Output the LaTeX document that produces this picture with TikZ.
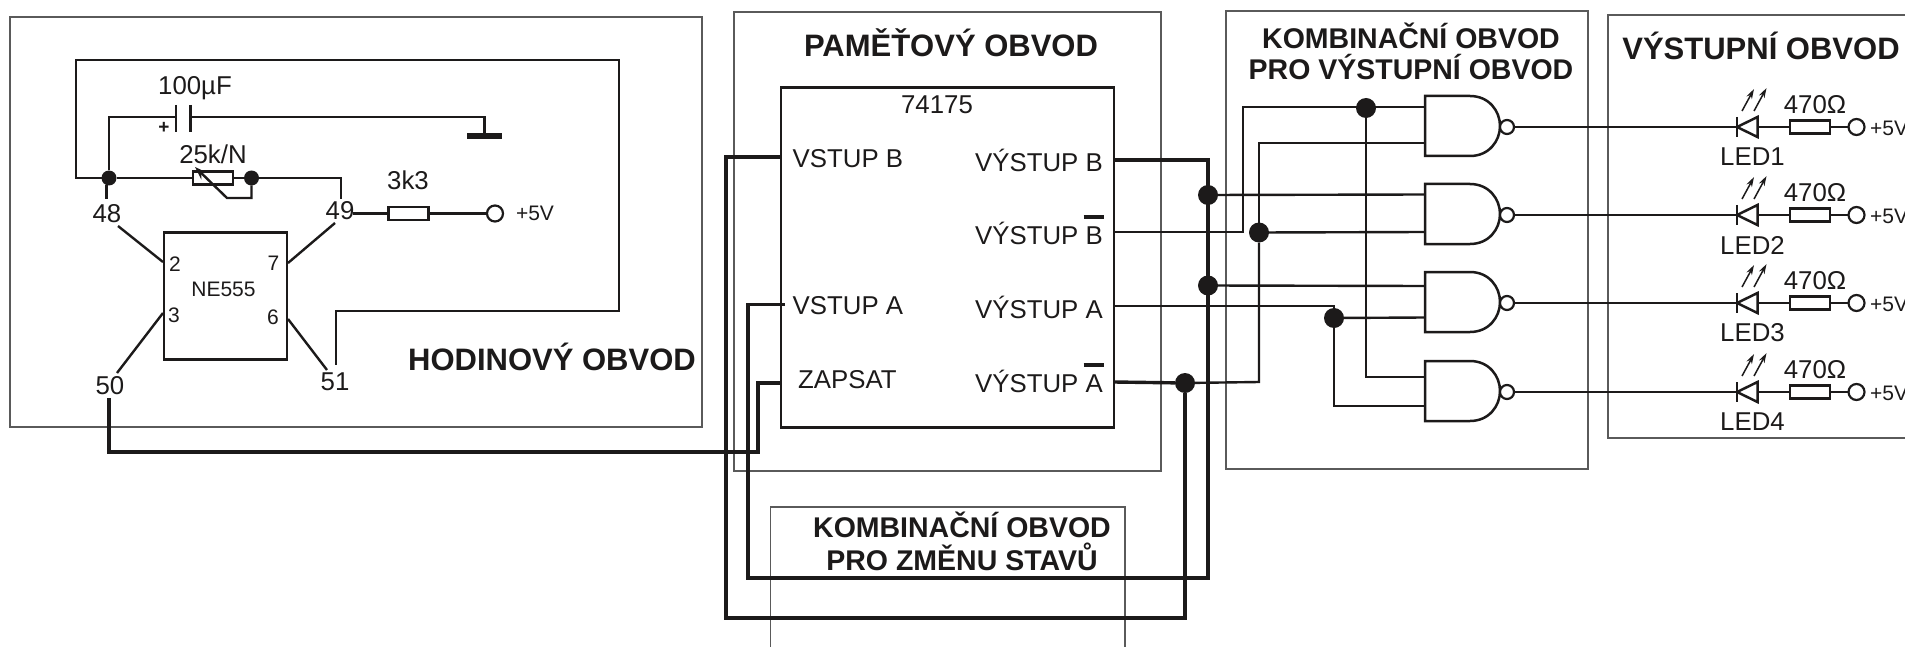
\documentclass[tikz,border=0pt]{standalone}
\usepackage{fontspec}
\setmainfont{Liberation Sans}
\usetikzlibrary{arrows.meta,calc}
\definecolor{ink}{HTML}{1C1A1A}
\definecolor{frame}{HTML}{5A5A5A}
\tikzset{
  wire/.style={draw=ink,line width=2.4pt,line join=miter},
  thickwire/.style={draw=ink,line width=3.4pt,line join=miter},
  group/.style={draw=frame,line width=1.3pt},
  chip/.style={draw=ink,line width=2.5pt,inner sep=0pt,outer sep=0pt},
  resbox/.style={draw=ink,fill=white,line width=2.4pt,rectangle,minimum width=40pt,minimum height=13pt,inner sep=0pt,outer sep=0pt},
  term/.style={draw=ink,fill=white,line width=2.2pt,circle,minimum size=16pt,inner sep=0pt,outer sep=0pt},
  dotbig/.style={fill=ink,circle,minimum size=20pt,inner sep=0pt,outer sep=0pt},
  dotsmall/.style={fill=ink,circle,minimum size=15pt,inner sep=0pt,outer sep=0pt},
  title/.style={text=ink,inner sep=0pt,font=\fontsize{31}{34}\bfseries\selectfont},
  subtitle/.style={text=ink,inner sep=0pt,font=\fontsize{28.5}{32}\bfseries\selectfont},
  lab/.style={text=ink,inner sep=0pt,font=\fontsize{25.8}{28}\selectfont},
  labsmall/.style={text=ink,inner sep=0pt,font=\fontsize{21}{24}\selectfont},
  ray/.style={draw=ink,line width=1.5pt,-{Stealth[length=10pt,width=6pt]}}
}
\begin{document}
\begin{tikzpicture}[x=1pt,y=-1pt]
\useasboundingbox (0,0) rectangle (1905,647);
% group frames
\draw[group] (10,17) rectangle (702,427);
\draw[group] (734,12) rectangle (1161,471);
\draw[group] (1226,11) rectangle (1588,469);
\draw[group] (1905,15) -- (1608,15) -- (1608,438) -- (1905,438);
\draw[group] (770.5,647) -- (770.5,507) -- (1125,507) -- (1125,647);
% titles
\node[title] (tHod) at (552,357) {HODINOVÝ OBVOD};
\node[title] (tPam) at (951,43) {PAMĚŤOVÝ OBVOD};
\node[subtitle] (tKom1) at (1411,35.5) {KOMBINAČNÍ OBVOD};
\node[subtitle] (tKom2) at (1411,67.5) {PRO VÝSTUPNÍ OBVOD};
\node[title] (tVys) at (1761,46) {VÝSTUPNÍ OBVOD};
\node[subtitle] (tZm1) at (962,525) {KOMBINAČNÍ OBVOD};
\node[subtitle] (tZm2) at (962,557) {PRO ZMĚNU STAVŮ};
% clock circuit
\node[chip,minimum width=123pt,minimum height=127pt] (ne) at (225.5,296) {};
\node[labsmall] (neT) at (223.5,289) {NE555};
\node[labsmall] (p2) at (175,264) {2};
\node[labsmall] (p7) at (273.5,263) {7};
\node[labsmall] (p3) at (174,315) {3};
\node[labsmall] (p6) at (273,317) {6};
\node[lab] (n48) at (107,214) {48};
\node[lab] (n49) at (340,211) {49};
\node[lab] (n50) at (110,386) {50};
\node[lab] (n51) at (335,382) {51};
\node[lab] (tCap) at (195,88) {100µF};
\node[lab] (tPot) at (213,154) {25k/N};
\node[lab] (t3k3) at (408,180) {3k3};
\node[labsmall] (tV0) at (535,213) {+5V};
\node[text=ink,inner sep=0pt,font=\fontsize{19}{20}\bfseries\selectfont] (tPlus) at (164,128) {+};
\node[dotsmall] (j48) at (109,178) {};
\node[dotsmall] (j25) at (251.5,178) {};
\node[resbox] (pot) at (213,178) {};
\node[resbox] (r3k3) at (408.5,213.5) {};
\node[term] (v0) at (495,213.5) {};
\coordinate (capA) at (176,117);
\coordinate (capB) at (190.5,117);
\coordinate (gnd) at (484.5,136);
\coordinate (a48) at (106.5,199);
\coordinate (b48) at (118,226);
\coordinate (c48) at (163,262);
\coordinate (a49) at (341,199);
\coordinate (b49) at (335,223);
\coordinate (c49) at (288,263);
\coordinate (o49) at (353,213.5);
\coordinate (b50) at (117,373);
\coordinate (c50) at (163,313);
\coordinate (b51) at (327,370);
\coordinate (c51) at (288,319);
\coordinate (a51) at (336,365);
\coordinate (a50) at (109,398);
\draw[wire] (j48) -- (76,178) -- (76,60) -- (619,60) -- (619,311) -- (336,311) -- (a51);
\draw[wire] (j48) |- (capA);
\draw[wire] (capB) -- (484.5,117) -- (gnd);
\draw[wire,line width=2.6pt] (176,105) -- (176,132);
\draw[wire,line width=2.6pt] (190.5,105) -- (190.5,132);
\draw[ink,line width=5.5pt] (467,136) -- (502,136);
\draw[wire] (j48) -- (pot);
\draw[wire] (pot) -- (j25);
\draw[wire] (j25) -- (341,178) -- (a49);
\draw[wire] (j48.south) ++(-2.5,0) -- (a48);
\draw[wire,-{Stealth[length=13pt,width=9pt]}] (j25) -- (251.5,198) -- (227,198) -- (195,167);
\draw[wire] (b48) -- (c48);
\draw[wire] (b49) -- (c49);
\draw[wire] (b50) -- (c50);
\draw[wire] (b51) -- (c51);
\draw[wire] (o49) -- (r3k3);
\draw[wire] (r3k3) -- (v0);
% register
\node[chip,minimum width=333pt,minimum height=340pt] (ic) at (947.5,257.5) {};
\node[lab] (t74) at (937,105) {74175};
\node[lab,anchor=west] (inB) at (792.5,159) {VSTUP B};
\node[lab,anchor=west] (inA) at (792.5,305.5) {VSTUP A};
\node[lab,anchor=west] (inZ) at (798,380) {ZAPSAT};
\node[lab,anchor=east] (outB) at (1103,160) {VÝSTUP B};
\node[lab,anchor=east] (outNB) at (1103,233) {VÝSTUP B};
\node[lab,anchor=east] (outA) at (1103,307) {VÝSTUP A};
\node[lab,anchor=east] (outNA) at (1103,381) {VÝSTUP A};
\draw[ink,line width=3.5pt] (1083.5,217) -- (1104,217);
\draw[ink,line width=3.5pt] (1083.5,365) -- (1104,365);
\node[dotbig] (dB) at (1208,195) {};
\node[dotbig] (dA) at (1208,285.5) {};
\node[dotbig] (dNA) at (1185,383) {};
\node[dotbig] (dNB) at (1259,232.5) {};
\node[dotbig] (dUp) at (1366,108) {};
\node[dotbig] (dLo) at (1334,318) {};
\coordinate (pB) at (1114,160);
\coordinate (pNB) at (1114,232);
\coordinate (pA) at (1114,306);
\coordinate (pNA) at (1114,382);
\coordinate (pInB) at (781,157);
\coordinate (pInA) at (785,304.5);
\coordinate (pInZ) at (781,383);
% gates and LED rows
\foreach \i/\r in {1/127,2/215,3/303,4/392}{
\begin{scope}[shift={(0,\r)}]
\draw[chip,fill=white] (1425,-31) -- (1470,-31) .. controls (1489,-31) and (1500,-16) .. (1500,-1)
  .. controls (1500,14) and (1489,29) .. (1470,29) -- (1425,29) -- cycle;
\node[term,minimum size=14pt] (bub\i) at (1507,0) {};
\node[resbox] (rl\i) at (1810,0) {};
\node[term] (vl\i) at (1856.5,0) {};
\coordinate (dk\i) at (1737,0);
\coordinate (da\i) at (1757.5,0);
\draw[wire] (bub\i) -- (dk\i);
\draw[wire] (da\i) -- (rl\i);
\draw[wire] (rl\i) -- (vl\i);
\draw[chip,line join=miter] (1737,-10) -- (1737,10);
\draw[chip,line join=miter] (dk\i) -- (da\i |- 0,-10) -- (da\i |- 0,10) -- cycle;
\draw[ray] (1742,-16) -- (1754,-38);
\draw[ray] (1754,-16) -- (1766.5,-39);
\node[lab] (tr\i) at (1815,-22) {470Ω};
\node[lab,anchor=west] (tl\i) at (1720,30) {LED\i};
\node[labsmall,anchor=west] (tv\i) at (1870,1) {+5V};
\end{scope}
}
\coordinate (g1a) at (1425,107);
\coordinate (g1b) at (1425,143);
\coordinate (g2a) at (1425,194.5);
\coordinate (g2b) at (1425,232);
\coordinate (g3a) at (1425,286);
\coordinate (g3b) at (1425,317.5);
\coordinate (g4a) at (1425,377);
\coordinate (g4b) at (1425,406);
% wiring
\draw[thickwire] (a50) -- (109,452) -- (758,452) -- (758,383) -- (pInZ);
\draw[thickwire] (pInB) -- (726,157) -- (726,618) -- (1185,618) -- (dNA);
\draw[thickwire] (pInA) -- (748,304.5) -- (748,578) -- (1208,578) -- (1208,160) -- (pB);
\draw[thickwire] (pNA) -- (dNA);
\draw[wire] (dNA) -- (1259,382) -- (dNB);
\draw[wire] (dNB) -- (1259,143) -- (g1b);
\draw[wire] (pNB) -- (1243,232) -- (1243,107) -- (g1a);
\draw[wire] (dNB) -- (g2b);
\draw[wire] (dB) -- (g2a);
\draw[wire] (dA) -- (g3a);
\draw[wire] (pA) -- (1334,306) -- (dLo);
\draw[wire] (dLo) -- (g3b);
\draw[wire] (dLo) |- (g4b);
\draw[wire] (dUp) |- (g4a);
\end{tikzpicture}
\end{document}
